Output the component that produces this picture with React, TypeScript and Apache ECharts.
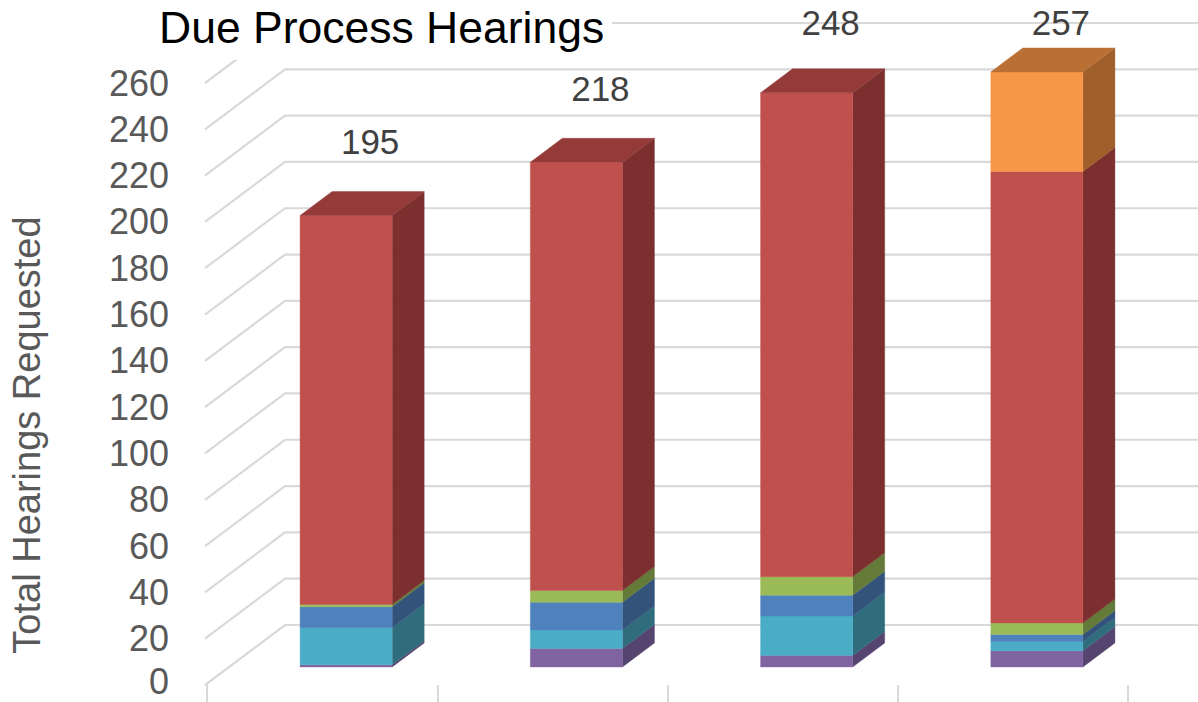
import React, { useEffect, useRef } from 'react';
import * as echarts from 'echarts';

// ---- data ----
const categories = ['Year 1', 'Year 2', 'Year 3', 'Year 4'];
const seriesNames = ['Series A', 'Series B', 'Series C', 'Series D', 'Series E', 'Series F'];
const purpleValues = [1, 8, 5, 7];
const cyanValues = [16, 8, 17, 4];
const blueValues = [9, 12, 9, 3];
const greenValues = [1, 5, 8, 5];
const redValues = [168, 185, 209, 195];
const orangeValues = [0, 0, 0, 43];
const totalLabels = [195, 218, 248, 257];
const yTickValues = [0, 20, 40, 60, 80, 100, 120, 140, 160, 180, 200, 220, 240, 260];

// ---- styling ----
const stackValues = [purpleValues, cyanValues, blueValues, greenValues, redValues, orangeValues];
const faceColors = [
  { front: '#8064A2', side: '#554470', top: '#654F83' },
  { front: '#4BACC6', side: '#2F6D7C', top: '#3A879B' },
  { front: '#4F81BD', side: '#33537B', top: '#3E6594' },
  { front: '#9BBB59', side: '#647A39', top: '#799247' },
  { front: '#C0504D', side: '#7B2F2E', top: '#943A38' },
  { front: '#F79646', side: '#9E5F2B', top: '#BA7034' },
];
const FONT = '"Liberation Sans", Arial, sans-serif';
const GAP_DX = 24; // depth offset of bar front from front plane
const GAP_DY = 18;
const BAR_DX = 32; // bar depth
const BAR_DY = 24;
const WALL_DX = 80; // full floor depth
const WALL_DY = 60;
const GRID_COLOR = '#d9d9d9';

export default function App() {
  const ref = useRef<HTMLDivElement>(null);

  useEffect(() => {
    if (!ref.current) return;
    const chart = echarts.init(ref.current, undefined, { renderer: 'svg' });

    const n = categories.length;
    const topIdx: number[] = [];
    for (let c = 0; c < n; c++) {
      let t = 0;
      stackValues.forEach((arr, s) => {
        if (arr[c] > 0) t = s;
      });
      topIdx.push(t);
    }
    const bases = new Array(n).fill(0);

    const barSeries: any[] = stackValues.map((arr, s) => {
      const data = arr.map((v, c) => {
        const b = bases[c];
        bases[c] += v;
        return [c, b, b + v, topIdx[c] === s ? 1 : 0];
      });
      const col = faceColors[s];
      return {
        type: 'custom',
        name: seriesNames[s],
        coordinateSystem: 'cartesian2d',
        silent: true,
        clip: false,
        z: 3,
        encode: { x: 0, y: [1, 2] },
        data,
        renderItem: (params: any, api: any) => {
          const ci = api.value(0);
          const b = api.value(1);
          const t = api.value(2);
          const isTop = api.value(3) === 1;
          if (t - b <= 0) return { type: 'group', children: [] };
          const pb = api.coord([ci, b]);
          const pt = api.coord([ci, t]);
          const band = api.size([1, 0])[0];
          const w = band * 0.4;
          const L = pb[0] + GAP_DX - w / 2;
          const R = L + w;
          const yb = pb[1] - GAP_DY;
          const yt = pt[1] - GAP_DY;
          const children: any[] = [
            {
              type: 'polygon',
              shape: { points: [[R, yb], [R + BAR_DX, yb - BAR_DY], [R + BAR_DX, yt - BAR_DY], [R, yt]] },
              style: { fill: col.side, stroke: col.side, lineWidth: 0.4 },
            },
            {
              type: 'rect',
              shape: { x: L, y: yt, width: w, height: yb - yt },
              style: { fill: col.front, stroke: col.front, lineWidth: 0.4 },
            },
          ];
          if (isTop) {
            children.push({
              type: 'polygon',
              shape: { points: [[L, yt], [R, yt], [R + BAR_DX, yt - BAR_DY], [L + BAR_DX, yt - BAR_DY]] },
              style: { fill: col.top, stroke: col.top, lineWidth: 0.4 },
            });
          }
          return { type: 'group', children };
        },
      };
    });

    const gridSeries = {
      type: 'custom',
      coordinateSystem: 'cartesian2d',
      silent: true,
      clip: false,
      z: 1,
      encode: { x: 0, y: 1 },
      data: yTickValues.map((v) => [0, v]),
      renderItem: (params: any, api: any) => {
        const cs = params.coordSys;
        const y = api.coord([0, api.value(1)])[1];
        const x0 = cs.x - 2;
        return {
          type: 'polyline',
          shape: {
            points: [
              [x0, y],
              [x0 + WALL_DX, y - WALL_DY],
              [cs.x + cs.width + WALL_DX + 10, y - WALL_DY],
            ],
          },
          style: { stroke: GRID_COLOR, lineWidth: 2.2, fill: 'none' },
        };
      },
    };

    const labelSeries = {
      type: 'custom',
      coordinateSystem: 'cartesian2d',
      silent: true,
      clip: false,
      z: 5,
      encode: { x: 0, y: 1 },
      data: totalLabels.map((v, c) => [c, v]),
      renderItem: (params: any, api: any) => {
        const v = api.value(1);
        const p = api.coord([api.value(0), v]);
        const backTop = p[1] - GAP_DY - BAR_DY;
        const y = Math.max(backTop - 50, 22);
        return {
          type: 'text',
          x: p[0] + 48,
          y,
          style: {
            text: String(v),
            fill: '#404040',
            fontSize: 35,
            fontFamily: FONT,
            align: 'center',
            verticalAlign: 'middle',
            textAlign: 'center',
            textVerticalAlign: 'middle',
          },
        };
      },
    };

    chart.setOption({
      animation: false,
      backgroundColor: '#ffffff',
      title: {
        text: 'Due Process Hearings',
        left: 159,
        top: 5,
        padding: 0,
        z: 12,
        textStyle: { color: '#000000', fontSize: 44.5, fontWeight: 'normal', fontFamily: FONT },
      },
      grid: { left: 207, right: 70, top: 83, bottom: 17 },
      xAxis: {
        type: 'category',
        data: categories,
        boundaryGap: true,
        axisLine: { show: false },
        axisTick: { show: true, length: 17, lineStyle: { color: GRID_COLOR, width: 2 } },
        axisLabel: { show: false },
        splitLine: { show: false },
      },
      yAxis: {
        type: 'value',
        min: 0,
        max: 260,
        interval: 20,
        axisLine: { show: false },
        axisTick: { show: false },
        splitLine: { show: false },
        axisLabel: {
          margin: 38,
          color: '#595959',
          fontSize: 36,
          fontFamily: FONT,
          formatter: (v: number) => (v === 0 ? '{z|0}' : String(v)),
          rich: {
            z: { fontSize: 36, color: '#595959', fontFamily: FONT, padding: [0, 0, 8, 0] },
          },
        },
      },
      graphic: [
        {
          type: 'rect',
          z: 10,
          shape: { x: 150, y: 0, width: 462, height: 60 },
          style: { fill: '#ffffff' },
          silent: true,
        },
        {
          type: 'text',
          z: 10,
          x: 27,
          y: 435,
          rotation: Math.PI / 2,
          style: {
            text: 'Total Hearings Requested',
            fill: '#595959',
            fontSize: 38,
            fontFamily: FONT,
            align: 'center',
            verticalAlign: 'middle',
            textAlign: 'center',
            textVerticalAlign: 'middle',
          },
        },
      ],
      series: [gridSeries, ...barSeries, labelSeries],
    });

    return () => chart.dispose();
  }, []);

  return (
    <div
      ref={ref}
      style={{ position: 'absolute', left: 0, top: 0, width: 1198, height: 702 }}
    />
  );
}
